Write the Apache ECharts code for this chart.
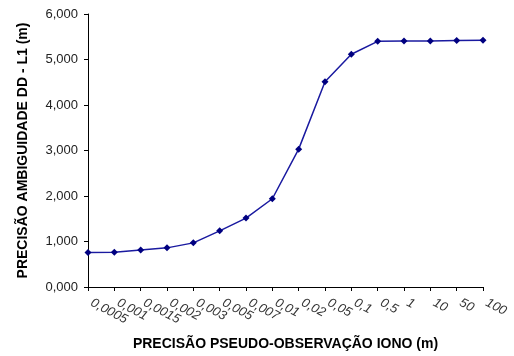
<!DOCTYPE html>
<html><head><meta charset="utf-8">
<script src="https://cdn.jsdelivr.net/npm/echarts@6/dist/echarts.min.js"></script>
<style>html,body{margin:0;padding:0;background:#fff}#c{width:514px;height:356px}</style>
</head><body><div id="c"></div>
<script>
var categories = ['0,0005','0,001','0,0015','0,002','0,003','0,005','0,007','0,01','0,02','0,05','0,1','0,5','1','10','50','100'];
var values = [0.757, 0.765, 0.815, 0.860, 0.970, 1.235, 1.515, 1.940, 3.030, 4.510, 5.115, 5.400, 5.405, 5.408, 5.420, 5.425];
var yTicks = {min: 0, max: 6, interval: 1};
var xTitle = 'PRECISÃO PSEUDO-OBSERVAÇÃO IONO (m)';
var yTitle = 'PRECISÃO AMBIGUIDADE DD - L1 (m)';

var chart = echarts.init(document.getElementById('c'), null, {renderer: 'canvas'});
chart.setOption({
  animation: false,
  grid: {left: 88, right: 31, top: 14, bottom: 69, containLabel: false},
  xAxis: {
    type: 'category', data: categories, boundaryGap: false,
    axisLine: {lineStyle: {color: '#000', width: 1}},
    axisTick: {show: true, length: 4, lineStyle: {color: '#000'}},
    axisLabel: {rotate: -28, fontFamily: 'Liberation Sans', fontStyle: 'italic', fontSize: 13, color: '#333', margin: 13, interval: 0, padding: [0, 0, 0, 4]},
    splitLine: {show: false},
    name: xTitle, nameLocation: 'middle', nameGap: 50,
    nameTextStyle: {fontFamily: 'Liberation Sans', fontWeight: 'bold', fontSize: 14, color: '#000'}
  },
  yAxis: {
    type: 'value', min: yTicks.min, max: yTicks.max, interval: yTicks.interval,
    axisLine: {show: true, lineStyle: {color: '#000', width: 1}},
    axisTick: {show: true, length: 4, lineStyle: {color: '#000'}},
    axisLabel: {fontFamily: 'Liberation Sans', fontSize: 13, color: '#222', margin: 10,
      formatter: function (v) { return v.toFixed(3).replace('.', ','); }},
    splitLine: {show: false},
    name: yTitle, nameLocation: 'middle', nameGap: 58,
    nameTextStyle: {fontFamily: 'Liberation Sans', fontWeight: 'bold', fontSize: 14, color: '#000'}
  },
  series: [{
    type: 'line', data: values,
    symbol: 'diamond', symbolSize: 7,
    lineStyle: {color: '#1a1aa0', width: 1.5},
    itemStyle: {color: '#000080'}
  }]
});
</script></body></html>
